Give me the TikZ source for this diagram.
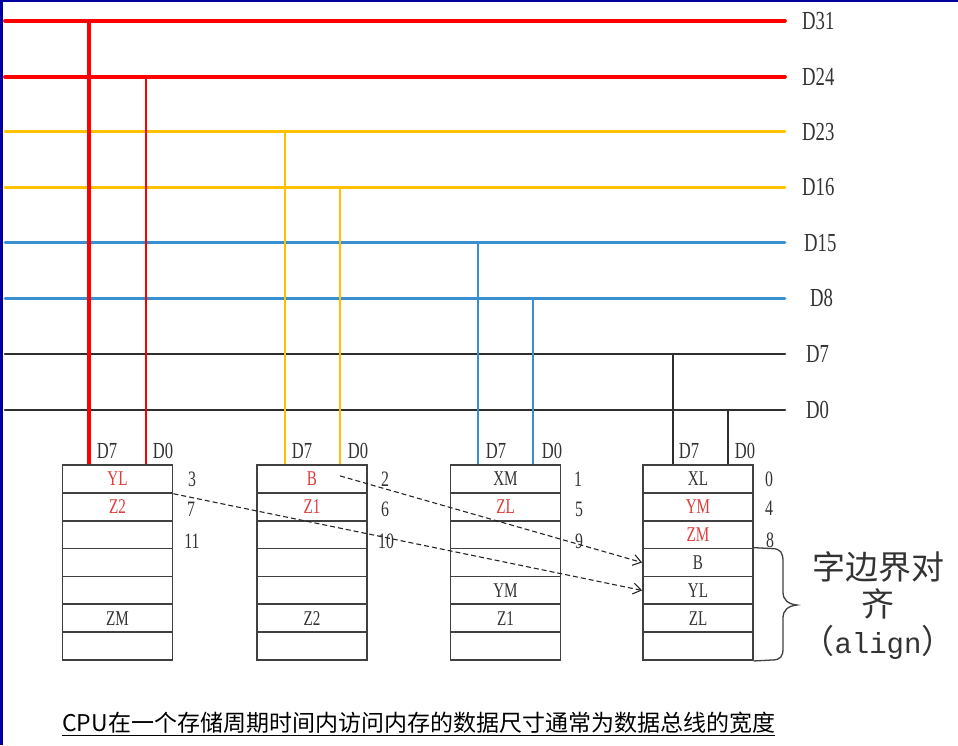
\documentclass[tikz,border=0pt]{standalone}
\usepackage{fontspec}
\usepackage{tikz}
\usetikzlibrary{arrows.meta,calc}
\usepackage{xcolor}
\newfontfamily\latinf{Liberation Serif}[FakeStretch=0.72]
\newfontfamily\monof{Liberation Mono}
\newfontfamily\cjkf{Noto Sans CJK SC}
\definecolor{busred}{HTML}{FF0000}
\definecolor{busyellow}{HTML}{FFC000}
\definecolor{busblue}{HTML}{3A8FD0}
\definecolor{busblack}{HTML}{2E2E2E}
\definecolor{frameblue}{HTML}{0000A0}
\definecolor{memred}{HTML}{E23A3A}
\definecolor{txtgray}{HTML}{333333}
\definecolor{cellgray}{HTML}{404040}

\begin{document}
\begin{tikzpicture}[
  x=1pt, y=-1pt,
  cell/.style={rectangle, draw=cellgray, line width=1.8pt, fill=white, minimum width=110pt, minimum height=27.9pt, inner sep=0pt, font=\latinf\fontsize{21}{21}\selectfont, text=txtgray},
  buslabel/.style={anchor=west, inner sep=0pt, font=\latinf\fontsize{26}{26}\selectfont, text=txtgray},
  pinlabel/.style={inner sep=0pt, font=\latinf\fontsize{23}{23}\selectfont, text=txtgray},
  addr/.style={inner sep=0pt, font=\latinf\fontsize{22}{22}\selectfont, text=txtgray},
  move/.style={dash pattern=on 5pt off 3pt, line width=1.1pt, draw=black!85, -{Straight Barb[length=8pt,width=11pt]}},
  >=Stealth
]
\useasboundingbox (0,0) rectangle (958,745);

% --- Marco ---
\fill[frameblue] (0,0) rectangle (3,745);
\fill[frameblue] (0,0) rectangle (958,2);

% --- Bus de datos ---
\draw[busred, line width=3.8pt, line cap=round] (5,20.7) -- (785,20.7);
\draw[busred, line width=3.8pt, line cap=round] (5,76.7) -- (785,76.7);
\draw[busyellow, line width=2.6pt, line cap=round] (5,131.7) -- (785,131.7);
\draw[busyellow, line width=2.6pt, line cap=round] (5,187.3) -- (785,187.3);
\draw[busblue, line width=2.6pt, line cap=round] (5,242.7) -- (785,242.7);
\draw[busblue, line width=2.6pt, line cap=round] (5,298.3) -- (785,298.3);
\draw[busblack, line width=2.4pt, line cap=round] (5,354) -- (785,354);
\draw[busblack, line width=2.4pt, line cap=round] (5,410) -- (785,410);
\node[buslabel] (l31) at (802,20.7) {D31};
\node[buslabel] (l24) at (802,76.7) {D24};
\node[buslabel] (l23) at (802,131.7) {D23};
\node[buslabel] (l16) at (802,187.3) {D16};
\node[buslabel] (l15) at (804,242.7) {D15};
\node[buslabel] (l8) at (810,298.3) {D8};
\node[buslabel] (l7) at (806,354) {D7};
\node[buslabel] (l0) at (806,410) {D0};

% --- Bancos de memoria ---
\node[cell] (b3r1) at (117.5,478.9) {\textcolor{memred}{YL}};
\node[cell] (b3r2) at (117.5,506.8) {\textcolor{memred}{Z2}};
\node[cell] (b3r3) at (117.5,534.6) {};
\node[cell] (b3r4) at (117.5,562.5) {};
\node[cell] (b3r5) at (117.5,590.4) {};
\node[cell] (b3r6) at (117.5,618.2) {ZM};
\node[cell] (b3r7) at (117.5,646.1) {};

\node[cell] (b2r1) at (312,478.9) {\textcolor{memred}{B}};
\node[cell] (b2r2) at (312,506.8) {\textcolor{memred}{Z1}};
\node[cell] (b2r3) at (312,534.6) {};
\node[cell] (b2r4) at (312,562.5) {};
\node[cell] (b2r5) at (312,590.4) {};
\node[cell] (b2r6) at (312,618.2) {Z2};
\node[cell] (b2r7) at (312,646.1) {};

\node[cell] (b1r1) at (505.5,478.9) {XM};
\node[cell] (b1r2) at (505.5,506.8) {\textcolor{memred}{ZL}};
\node[cell] (b1r3) at (505.5,534.6) {};
\node[cell] (b1r4) at (505.5,562.5) {};
\node[cell] (b1r5) at (505.5,590.4) {YM};
\node[cell] (b1r6) at (505.5,618.2) {Z1};
\node[cell] (b1r7) at (505.5,646.1) {};

\node[cell] (b0r1) at (698,478.9) {XL};
\node[cell] (b0r2) at (698,506.8) {\textcolor{memred}{YM}};
\node[cell] (b0r3) at (698,534.6) {\textcolor{memred}{ZM}};
\node[cell] (b0r4) at (698,562.5) {B};
\node[cell] (b0r5) at (698,590.4) {YL};
\node[cell] (b0r6) at (698,618.2) {ZL};
\node[cell] (b0r7) at (698,646.1) {};

% --- Lineas D7/D0 de cada banco ---
\coordinate (p31) at (89,20.7);
\coordinate (p24) at (146,76.7);
\coordinate (p23) at (285,131.7);
\coordinate (p16) at (340,187.3);
\coordinate (p15) at (478,242.7);
\coordinate (p8) at (533,298.3);
\coordinate (p7) at (673,354);
\coordinate (p0) at (728,410);
\draw[busred, line width=3.6pt] (p31) -- (p31 |- b3r1.north);
\draw[busred, line width=2pt] (p24) -- (p24 |- b3r1.north);
\draw[busyellow, line width=2pt] (p23) -- (p23 |- b2r1.north);
\draw[busyellow, line width=2pt] (p16) -- (p16 |- b2r1.north);
\draw[busblue, line width=2pt] (p15) -- (p15 |- b1r1.north);
\draw[busblue, line width=2pt] (p8) -- (p8 |- b1r1.north);
\draw[busblack, line width=2pt] (p7) -- (p7 |- b0r1.north);
\draw[busblack, line width=2pt] (p0) -- (p0 |- b0r1.north);

\node[pinlabel] (d73) at (107,451) {D7};
\node[pinlabel] (d03) at (163,451) {D0};
\node[pinlabel] (d72) at (302,451) {D7};
\node[pinlabel] (d02) at (358,451) {D0};
\node[pinlabel] (d71) at (496,451) {D7};
\node[pinlabel] (d01) at (552,451) {D0};
\node[pinlabel] (d70) at (689,451) {D7};
\node[pinlabel] (d00) at (745,451) {D0};

% --- Direcciones ---
\node[addr] (a3) at (192,479) {3};
\node[addr] (a7) at (191,509) {7};
\node[addr] (a11) at (192,541) {11};
\node[addr] (a2) at (385,479) {2};
\node[addr] (a6) at (385,509) {6};
\node[addr] (a10) at (386,541) {10};
\node[addr] (a1) at (578,479) {1};
\node[addr] (a5) at (579,509) {5};
\node[addr] (a9) at (579,541) {9};
\node[addr] (a0) at (769,479) {0};
\node[addr] (a4) at (769,508) {4};
\node[addr] (a8) at (770,540) {8};

% --- Flujo ---
\draw[move] (b3r1.south east) -- (b0r5.west);
\draw[move] ([xshift=28pt,yshift=3pt]b2r1.center) -- (b0r4.west);

% --- Llave ---
\draw[line width=1.3pt, cellgray] (b0r4.north east) -- (772,548.6)
  .. controls (781,548.6) and (783,553) .. (783,562) -- (783,592)
  .. controls (783,600) and (788,604) .. (797,605)
  .. controls (788,606) and (783,610) .. (783,618) -- (783,648)
  .. controls (783,656) and (781,660) .. (772,660) -- (b0r7.south east);
\node[align=center, text=txtgray, font=\cjkf\fontsize{33}{37}\selectfont] (nota) at (878,606)
  {字边界对\\齐\\（{\monof\fontsize{29}{29}\selectfont align}）};

% --- Pie ---
\node[anchor=west, inner sep=0pt, text=black, font=\cjkf\fontsize{23}{23}\selectfont] (pie) at (62,724)
  {\underline{CPU在一个存储周期时间内访问内存的数据尺寸通常为数据总线的宽度}};

\end{tikzpicture}
\end{document}
